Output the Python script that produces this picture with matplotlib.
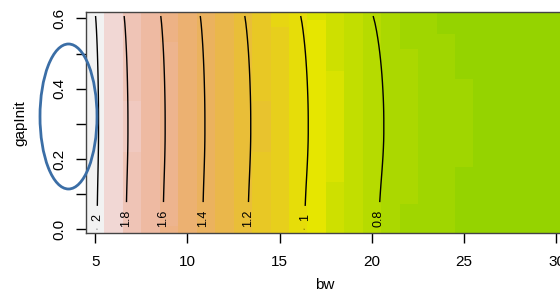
import colorsys
import matplotlib
matplotlib.use('Agg')
import matplotlib.pyplot as plt
import numpy as np
from matplotlib.colors import ListedColormap, BoundaryNorm
from matplotlib.patches import Ellipse

plt.rcParams['font.family'] = ['Liberation Sans', 'DejaVu Sans']

# grid of the fitted surface (bw along x, gapInit along y)
bw = [5, 6, 7, 8, 9, 10, 11, 12, 13, 14, 15, 16, 17, 18, 19, 20,
      21, 22, 23, 24, 25, 26, 27, 28, 29, 30]
gap_init = [0.0, 0.0209, 0.0418, 0.0628, 0.0837, 0.1046, 0.1255, 0.1464,
            0.1674, 0.1883, 0.2092, 0.2301, 0.2510, 0.2720, 0.2929, 0.3138,
            0.3347, 0.3556, 0.3766, 0.3975, 0.4184, 0.4393, 0.4602, 0.4812,
            0.5021, 0.5230, 0.5439, 0.5648, 0.5858, 0.6067]

# response along bw (at the middle of gapInit) and the small gapInit effect
z_bw = [2.025, 1.885, 1.775, 1.675, 1.58, 1.485, 1.395, 1.31, 1.23, 1.16,
        1.095, 1.03, 0.975, 0.918, 0.87, 0.825, 0.786, 0.758, 0.737, 0.722,
        0.711, 0.703, 0.698, 0.696, 0.697, 0.701]
z_gap = [-0.012, -0.011, -0.010, -0.0092, -0.0083, -0.0073, -0.0062, -0.0050,
         -0.0038, -0.0027, -0.0017, -0.0009, -0.0003, 0.0, 0.0, 0.0,
         -0.0002, -0.0006, -0.0012, -0.0020, -0.0029, -0.0040, -0.0053, -0.0068,
         -0.0085, -0.0105, -0.0128, -0.0154, -0.0185, -0.0225]

levels = [0.8, 1.0, 1.2, 1.4, 1.6, 1.8, 2.0]
xticks = [5, 10, 15, 20, 25, 30]
yticks = [0.0, 0.1, 0.2, 0.3, 0.4, 0.5, 0.6]
ytick_labels = ['0.0', '', '0.2', '', '0.4', '', '0.6']


def terrain_colors(n):
    # same ramp as R's terrain.colors()
    k = n // 2
    m = n - k + 1
    h = np.r_[np.linspace(4 / 12, 2 / 12, k), np.linspace(2 / 12, 0, m)[1:]]
    s = np.r_[np.ones(k), np.linspace(1, 0, m)[1:]]
    v = np.r_[np.linspace(0.65, 0.9, k), np.linspace(0.9, 0.95, m)[1:]]
    return [colorsys.hsv_to_rgb(*c) for c in zip(h, s, v)]


Z = np.add.outer(np.array(z_gap), np.array(z_bw))

ncol = 50
zmin, zmax = -0.03, 2.02
cmap = ListedColormap(terrain_colors(ncol))
norm = BoundaryNorm(np.linspace(zmin, zmax, ncol + 1), ncol)

fig = plt.figure(figsize=(5.6, 2.95), dpi=100)
ax = fig.add_axes([86 / 560, 62 / 295, 479.7 / 560, 220.7 / 295])

ax.pcolormesh(bw, gap_init, Z, shading='nearest', cmap=cmap, norm=norm)
cs = ax.contour(bw, gap_init, Z, levels=levels, colors='black', linewidths=1.0)

# labels sit at the foot of each line, as R's contour() puts them
spots = [(5.1, 0.034), (6.7, 0.03), (8.7, 0.03), (10.8, 0.03),
         (13.3, 0.03), (16.3, 0.034), (20.4, 0.03)]
labels = ax.clabel(cs, levels=levels, inline=True, inline_spacing=8,
                   fontsize=9, fmt=lambda v: f'{v:g}', manual=spots)
for t in labels:
    t.set_rotation(90)

ax.set_xlim(4.5, 30.5)
ax.set_ylim(-0.0105, 0.6172)
ax.set_xticks(xticks)
ax.set_yticks(yticks)
ax.set_yticklabels(ytick_labels)
ax.tick_params(axis='x', length=7, width=1, pad=9, labelsize=11)
ax.tick_params(axis='y', length=7, width=1, pad=7, labelsize=11, labelrotation=90)
for t in ax.get_yticklabels():
    t.set_va('center')
for sp in ax.spines.values():
    sp.set_color('#444444')
    sp.set_linewidth(1)

fig.text(20 / 560, 1 - 123 / 295, 'gapInit', rotation=90, ha='center',
         va='center', fontsize=11)
fig.text(325 / 560, 1 - 285 / 295, 'bw', ha='center', va='center', fontsize=11)

# blue ring drawn over the y axis labels
ring = Ellipse((68.5 / 560, 1 - 116.5 / 295), 57 / 560, 145 / 295,
               transform=fig.transFigure, fill=False, edgecolor='#3b6ea6',
               linewidth=2, clip_on=False)
fig.add_artist(ring)

fig.savefig('out.png', dpi=100)
